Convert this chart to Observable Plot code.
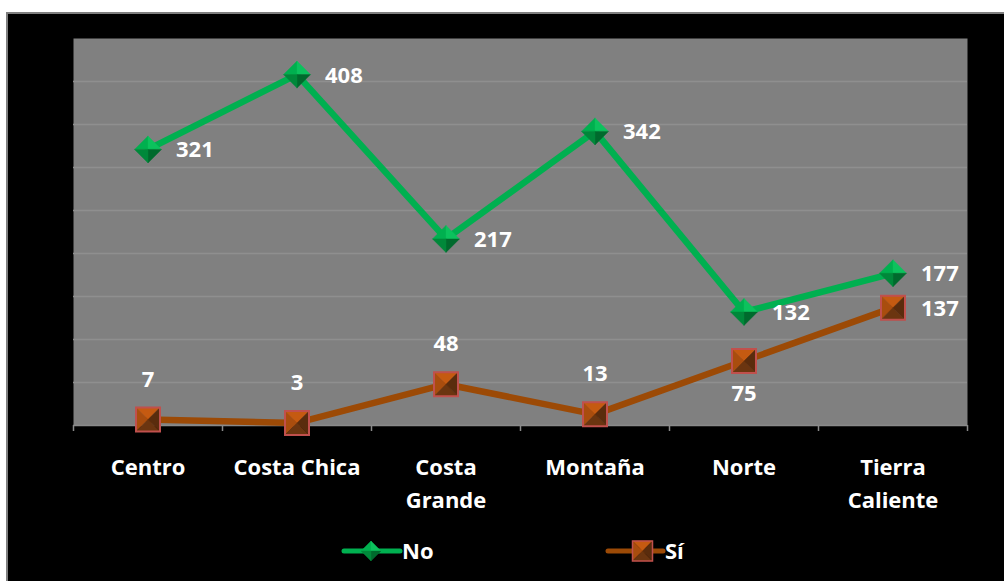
<!DOCTYPE html>
<html><head><meta charset="utf-8">
<script src="https://cdn.jsdelivr.net/npm/d3@7"></script>
<script src="https://cdn.jsdelivr.net/npm/@observablehq/plot@0.6"></script>
<style>
html,body{margin:0;padding:0;background:#fff;width:1004px;height:581px;overflow:hidden;font-family:"Open Sans",sans-serif;}
#box{position:absolute;left:6px;top:12px;width:1010px;height:580px;background:#000;border-left:2px solid #7f7f7f;border-top:2px solid #7f7f7f;}
#chart{position:absolute;left:0;top:0;}
#legend{position:absolute;left:0;top:528px;}
</style></head><body>
<div id="box"></div>
<div id="chart"></div>
<svg id="legend" width="1004" height="46"></svg>
<script>
// ---- data ----
const categories = ["Centro", "Costa Chica", "Costa\nGrande", "Montaña", "Norte", "Tierra\nCaliente"];
const noValues = [321, 408, 217, 342, 132, 177];
const siValues = [7, 3, 48, 13, 75, 137];
const seriesNames = ["No", "Sí"];
const yGrid = [50, 100, 150, 200, 250, 300, 350, 400];
const yMax = 450;

// ---- table ----
const noRows = categories.map((c, i) => ({i: i + 0.5, cat: c, value: noValues[i], series: seriesNames[0]}));
const siRows = categories.map((c, i) => ({i: i + 0.5, cat: c, value: siValues[i], series: seriesNames[1]}));

// ---- colors ----
const green = "#00b050", orange = "#9c4a06";
const diamondFaces = [
  {pts: [[-1,0],[0,-1],[0,0]], fill: "#00b04f"},
  {pts: [[0,-1],[1,0],[0,0]], fill: "#0cc25d"},
  {pts: [[1,0],[0,1],[0,0]], fill: "#006a2d"},
  {pts: [[0,1],[-1,0],[0,0]], fill: "#00883a"}
];
const squareFaces = [
  {pts: [[-1,-1],[1,-1],[0,0]], fill: "#c55a11"},
  {pts: [[-1,-1],[-1,1],[0,0]], fill: "#a94d0e"},
  {pts: [[-1,1],[1,1],[0,0]], fill: "#6b3510"},
  {pts: [[1,-1],[1,1],[0,0]], fill: "#5a2c0d"}
];
function faceSymbol(pts) {
  return {draw(ctx, size) {
    const r = Math.sqrt(size / Math.PI);
    ctx.moveTo(pts[0][0] * r, pts[0][1] * r);
    for (let k = 1; k < pts.length; ++k) ctx.lineTo(pts[k][0] * r, pts[k][1] * r);
    ctx.closePath();
  }};
}
const squareOutline = faceSymbol([[-1,-1],[1,-1],[1,1],[-1,1]]);

function markerMarks(rows, faces, r) {
  return faces.map(f => Plot.dot(rows, {x: "i", y: "value", r, symbol: faceSymbol(f.pts), fill: f.fill, stroke: f.fill, strokeWidth: 0.4}));
}

const labelFont = {fill: "white", fontSize: 22, fontWeight: "bold", fontFamily: "Open Sans"};
const siAbove = siRows.filter(d => d.value < 60);
const siBelow = siRows.filter(d => d.cat === "Norte");
const siRight = siRows.filter(d => d.cat === "Tierra\nCaliente");

const chart = Plot.plot({
  width: 1004,
  height: 520,
  marginLeft: 73,
  marginRight: 37,
  marginTop: 38,
  marginBottom: 95,
  style: {background: "transparent", color: "white", fontFamily: "Open Sans"},
  x: {type: "linear", domain: [0, categories.length], axis: null},
  y: {domain: [0, yMax], axis: null},
  marks: [
    Plot.frame({fill: "#808080", stroke: null}),
    Plot.ruleY(yGrid, {stroke: "#8f8f8f", strokeWidth: 1.3}),
    Plot.ruleY([0], {stroke: "#8a8a8a", strokeWidth: 1.5}),
    Plot.axisX({ticks: d3.range(categories.length + 1), tickSize: 6, tickFormat: () => "", stroke: "#8a8a8a", strokeWidth: 1.5, label: null}),
    Plot.axisX({ticks: categories.map((c, i) => i + 0.5), tickSize: 0, tickPadding: 26, tickFormat: d => categories[Math.round(d - 0.5)],
      fill: "white", fontSize: 22, fontWeight: "bold", lineHeight: 1.5, label: null}),
    Plot.line(siRows, {x: "i", y: "value", stroke: orange, strokeWidth: 6.5}),
    Plot.line(noRows, {x: "i", y: "value", stroke: green, strokeWidth: 6.5}),
    ...markerMarks(noRows, diamondFaces, 13.5),
    ...markerMarks(siRows, squareFaces, 12),
    Plot.dot(siRows, {x: "i", y: "value", r: 12, symbol: squareOutline, fill: "none", stroke: "#c0504d", strokeWidth: 2}),
    Plot.text(noRows, {x: "i", y: "value", text: d => String(d.value), textAnchor: "start", dx: 28, dy: 1, ...labelFont}),
    Plot.text(siAbove, {x: "i", y: "value", text: d => String(d.value), dy: -40, ...labelFont}),
    Plot.text(siBelow, {x: "i", y: "value", text: d => String(d.value), dy: 33, ...labelFont}),
    Plot.text(siRight, {x: "i", y: "value", text: d => String(d.value), textAnchor: "start", dx: 28, dy: 1, ...labelFont})
  ]
});
document.getElementById("chart").appendChild(chart);

// ---- legend ----
const lg = d3.select("#legend");
const cy = 23;
function drawFaces(g, cx, faces, r) {
  faces.forEach(f => {
    g.append("path").attr("d", "M" + f.pts.map(p => [cx + p[0] * r, cy + p[1] * r].join(",")).join("L") + "Z")
      .attr("fill", f.fill).attr("stroke", f.fill).attr("stroke-width", 0.4);
  });
}
const legendItems = [
  {name: seriesNames[0], color: green, x0: 344, x1: 400, faces: diamondFaces, r: 10, square: false},
  {name: seriesNames[1], color: orange, x0: 608, x1: 663, faces: squareFaces, r: 10, square: true}
];
legendItems.forEach(it => {
  lg.append("line").attr("x1", it.x0).attr("x2", it.x1).attr("y1", cy).attr("y2", cy)
    .attr("stroke", it.color).attr("stroke-width", 5).attr("stroke-linecap", "round");
  const cx = (it.x0 + it.x1) / 2 - (it.square ? -7 : 1);
  drawFaces(lg, cx, it.faces, it.r);
  if (it.square) lg.append("rect").attr("x", cx - it.r).attr("y", cy - it.r).attr("width", 2 * it.r).attr("height", 2 * it.r)
    .attr("fill", "none").attr("stroke", "#c0504d").attr("stroke-width", 1.5);
  lg.append("text").attr("x", it.x1 + 2).attr("y", cy).attr("dy", "0.36em").attr("fill", "white")
    .attr("font-size", 22).attr("font-weight", "bold").attr("font-family", "Open Sans").text(it.name);
});
</script>
</body></html>
